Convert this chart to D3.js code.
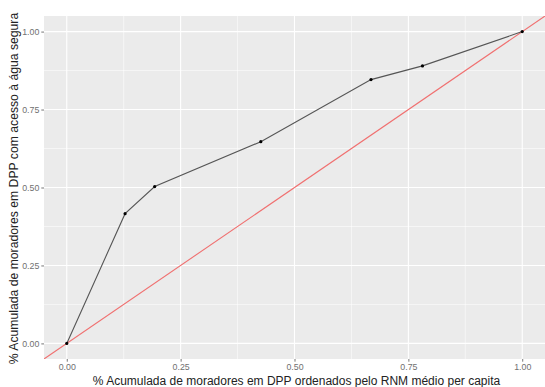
<!DOCTYPE html>
<html><head><meta charset="utf-8">
<script src="https://cdn.jsdelivr.net/npm/d3@7"></script>
<style>body{margin:0;background:#fff}svg{display:block}</style>
</head><body>
<svg id="c" width="545" height="387"></svg>
<script>
const xValues = [0, 0.128, 0.193, 0.426, 0.668, 0.781, 1];
const yValues = [0, 0.416, 0.503, 0.647, 0.846, 0.890, 1];
const tickValues = [0, 0.25, 0.5, 0.75, 1];
const minorTicks = [0.125, 0.375, 0.625, 0.875];
const xTitle = "% Acumulada de moradores em DPP ordenados pelo RNM médio per capita";
const yTitle = "% Acumulada de moradores em DPP com acesso à água segura";

const svg = d3.select("#c");
const m = {l: 44, r: 0, t: 16, b: 28};
const W = 545, H = 387;
const x = d3.scaleLinear().domain([-0.05, 1.05]).range([m.l, W - m.r]);
const y = d3.scaleLinear().domain([-0.05, 1.05]).range([H - m.b, m.t]);
const font = "Liberation Sans, Arial, sans-serif";

svg.append("rect").attr("x", m.l).attr("y", m.t)
  .attr("width", W - m.r - m.l).attr("height", H - m.b - m.t).attr("fill", "#EBEBEB");

const g = svg.append("g");
minorTicks.forEach(v => {
  g.append("line").attr("x1", x(v)).attr("x2", x(v)).attr("y1", m.t).attr("y2", H - m.b)
    .attr("stroke", "#fff").attr("stroke-width", 0.55);
  g.append("line").attr("y1", y(v)).attr("y2", y(v)).attr("x1", m.l).attr("x2", W - m.r)
    .attr("stroke", "#fff").attr("stroke-width", 0.55);
});
tickValues.forEach(v => {
  g.append("line").attr("x1", x(v)).attr("x2", x(v)).attr("y1", m.t).attr("y2", H - m.b)
    .attr("stroke", "#fff").attr("stroke-width", 1.1);
  g.append("line").attr("y1", y(v)).attr("y2", y(v)).attr("x1", m.l).attr("x2", W - m.r)
    .attr("stroke", "#fff").attr("stroke-width", 1.1);
});

svg.append("clipPath").attr("id", "clip").append("rect")
  .attr("x", m.l).attr("y", m.t).attr("width", W - m.r - m.l).attr("height", H - m.b - m.t);

svg.append("line").attr("clip-path", "url(#clip)")
  .attr("x1", x(-0.05)).attr("y1", y(-0.05)).attr("x2", x(1.05)).attr("y2", y(1.05))
  .attr("stroke", "#F07070").attr("stroke-width", 1.1);

const pts = xValues.map((v, i) => [v, yValues[i]]);
svg.append("path").datum(pts)
  .attr("d", d3.line().x(d => x(d[0])).y(d => y(d[1])))
  .attr("fill", "none").attr("stroke", "#555").attr("stroke-width", 1.1);
svg.selectAll("circle.p").data(pts).enter().append("circle")
  .attr("cx", d => x(d[0])).attr("cy", d => y(d[1])).attr("r", 1.6).attr("fill", "#000");

const fmt = d3.format(".2f");
const xAxis = d3.axisBottom(x).tickValues(tickValues).tickFormat(fmt).tickSize(2.7).tickPadding(2);
const ax = svg.append("g").attr("transform", `translate(0,${H - m.b})`).call(xAxis);
const yAxis = d3.axisLeft(y).tickValues(tickValues).tickFormat(fmt).tickSize(2.7).tickPadding(2);
const ay = svg.append("g").attr("transform", `translate(${m.l},0)`).call(yAxis);
[ax, ay].forEach(a => {
  a.select(".domain").remove();
  a.selectAll(".tick line").attr("stroke", "#777");
  a.selectAll("text").attr("fill", "#707070").style("font-family", font).style("font-size", "8.8px");
});

svg.append("text").attr("x", (m.l + W - m.r) / 2 + 2).attr("y", 385)
  .attr("text-anchor", "middle").style("font-family", font).style("font-size", "12px")
  .attr("fill", "#222").text(xTitle);
svg.append("text").attr("transform", `translate(18,${(m.t + H - m.b) / 2 + 1}) rotate(-90)`)
  .attr("text-anchor", "middle").style("font-family", font).style("font-size", "12.2px")
  .attr("fill", "#222").text(yTitle);
</script>
</body></html>
